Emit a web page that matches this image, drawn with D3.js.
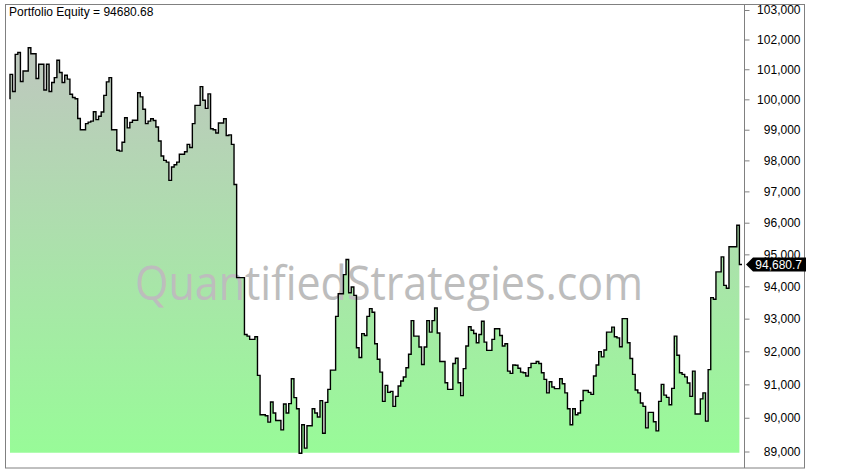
<!DOCTYPE html>
<html><head><meta charset="utf-8">
<script src="https://cdn.jsdelivr.net/npm/d3@7"></script>
<style>html,body{margin:0;padding:0;background:#fff;overflow:hidden}svg{display:block}</style>
</head><body>
<svg id="chart" width="849" height="469"></svg>
<script>
const titleText = "Portfolio Equity = 94680.68";
const watermark = "QuantifiedStrategies.com";
const lastLabel = "94,680.7";
const tickValues = [89000, 90000, 91000, 92000, 93000, 94000, 95000, 96000, 97000, 98000, 99000, 100000, 101000, 102000, 103000];
const equity = [
100000,100830,100260,101500,101560,100590,100940,100940,101720,101520,101520,100690,101170,101170,100310,101170,100260,100560,100720,101300,100890,100560,100800,100670,100170,100060,100020,99370,99000,99000,99200,99250,99280,99590,99330,99440,99580,100130,100580,100720,99000,99000,98330,98300,98590,99390,99060,99240,99310,99310,100220,100080,99670,99200,99280,99360,99300,99090,98630,98140,
98000,97945,97355,97785,97860,97945,98200,98200,98280,98520,98420,99200,99800,99800,100420,99970,99700,100180,99030,99000,98890,99220,99220,99360,98810,98830,98520,97220,94270,94270,94270,92515,92465,92365,92365,92445,91270,90090,90090,90060,89870,90470,90140,89920,89920,89640,90410,90140,90420,91170,90600,90270,
88950,89790,89100,89760,89760,90270,90140,90020,90510,89540,90460,90850,91430,91430,93070,93770,93770,94365,94840,93800,93980,93720,92110,91810,92540,92485,93070,93310,93195,92230,91760,91370,90490,90970,90760,90790,90340,90640,90950,91100,91220,91500,91910,92940,92465,92465,92130,91600,92130,92940,92585,92940,93330,92560,
91690,91690,91050,90850,90850,91630,91790,91050,90660,91475,92160,92750,92645,92545,92260,92515,92920,92280,92030,92030,92365,92690,92690,92485,92160,92230,91400,91330,91585,91575,91485,91370,91350,91250,91505,91635,91635,91690,91630,91350,91150,90745,91080,90920,90870,90870,91170,91020,90745,90270,89790,90270,90090,90140,90510,
90815,90815,90760,90700,91250,91585,91990,91830,92040,92585,92585,92740,92445,92410,92140,93000,93000,92260,91780,91300,90830,90745,90440,90340,89700,90160,90160,89880,89610,90490,91000,90675,90610,90390,90880,92465,91880,91350,91300,91225,91040,90640,91400,90110,90110,90565,90745,89900,91445,93650,93600,94450,94450,94920,94030,93940,95240,95240,95240,95920,94680.68
];

const svg = d3.select("#chart");
const font = "'Liberation Sans', Arial, sans-serif";

const x = d3.scaleLinear().domain([0, equity.length - 1]).range([10, 742]);
const y = d3.scaleLog().domain([88965, 103000]).range([452.7, 10]);

const defs = svg.append("defs");
const grad = defs.append("linearGradient").attr("id", "fillGrad")
  .attr("gradientUnits", "userSpaceOnUse").attr("x1", 0).attr("x2", 0)
  .attr("y1", y.range()[1]).attr("y2", y.range()[0]);
grad.append("stop").attr("offset", "0%").attr("stop-color", "#c2c2c2");
grad.append("stop").attr("offset", "100%").attr("stop-color", "#98fb98");

const pts = equity.map((v, i) => [i, v]);

// area
const area = d3.area().curve(d3.curveStepBefore)
  .x(d => x(d[0])).y0(y.range()[0]).y1(d => y(d[1]));
svg.append("path").datum(pts.slice(0, -1)).attr("d", area).attr("fill", "url(#fillGrad)");

// watermark
svg.append("text").attr("x", 135).attr("y", 300)
  .attr("font-family", "'Open Sans', 'Noto Sans', sans-serif").attr("font-size", 48)
  .attr("fill", "#bdbdbd").attr("textLength", 508).attr("lengthAdjust", "spacingAndGlyphs")
  .text(watermark);

// line
const line = d3.line().curve(d3.curveStepBefore).x(d => x(d[0])).y(d => y(d[1]));
svg.append("path").datum(pts).attr("d", line).attr("fill", "none")
  .attr("stroke", "#000").attr("stroke-width", 1.4);

// frame
svg.append("rect").attr("x", 5.5).attr("y", 4.5).attr("width", 799).attr("height", 463.5)
  .attr("fill", "none").attr("stroke", "#808080").attr("stroke-width", 1);
svg.append("line").attr("x1", 744.5).attr("x2", 744.5).attr("y1", 4.5).attr("y2", 468)
  .attr("stroke", "#808080");

// axis
const axis = d3.axisRight(y).tickValues(tickValues).tickFormat(d3.format(",")).tickSize(5);
const ag = svg.append("g").attr("transform", "translate(744.5,0)").call(axis);
ag.select(".domain").remove();
ag.selectAll(".tick line").attr("stroke", "#808080");
ag.selectAll(".tick text").attr("x", 56).attr("text-anchor", "end")
  .attr("font-family", font).attr("font-size", 12).attr("fill", "#000");

// title
svg.append("text").attr("x", 9).attr("y", 16).attr("font-family", font)
  .attr("font-size", 12).attr("fill", "#000").text(titleText);

// last value marker
const ly = y(equity[equity.length - 1]);
svg.append("path")
  .attr("d", `M746,${ly} L753,${ly - 7} L806,${ly - 7} L806,${ly + 7} L753,${ly + 7} Z`)
  .attr("fill", "#000");
svg.append("text").attr("x", 802).attr("y", ly + 4.3).attr("text-anchor", "end")
  .attr("font-family", font).attr("font-size", 12).attr("fill", "#fff").text(lastLabel);
</script>
</body></html>
